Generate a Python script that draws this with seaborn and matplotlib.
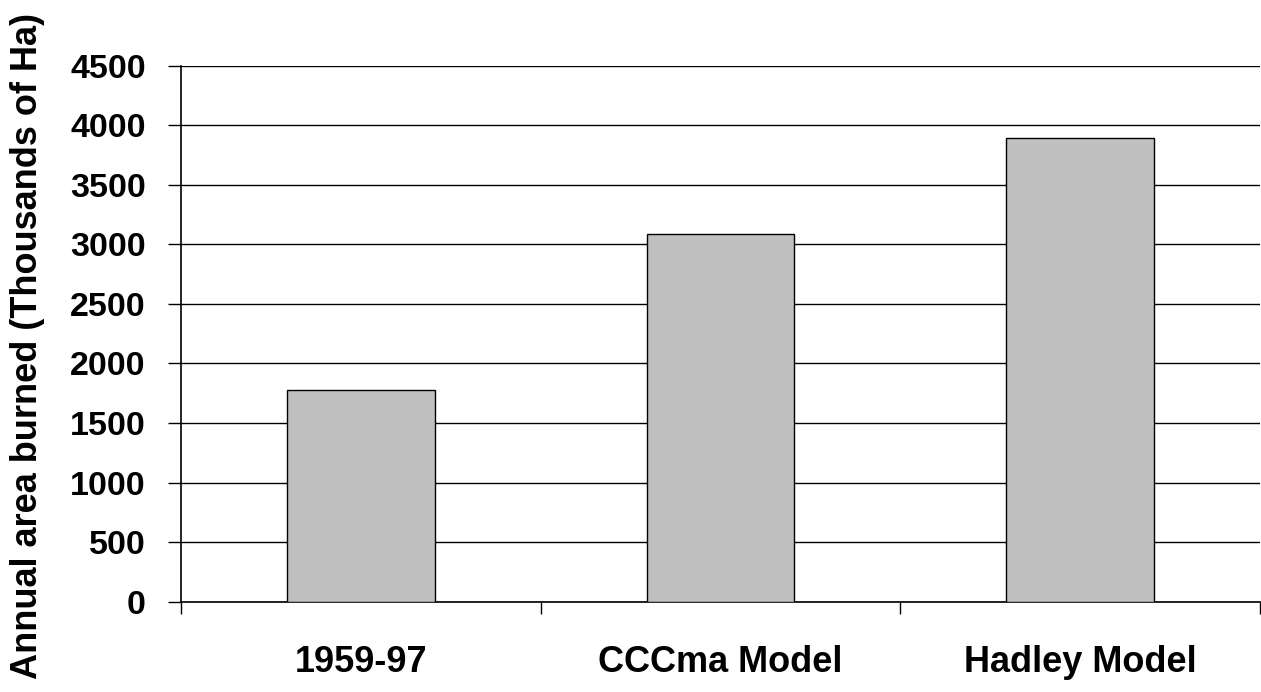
import matplotlib
matplotlib.use("Agg")
import matplotlib.pyplot as plt
import seaborn as sns
import pandas as pd
from matplotlib.ticker import FixedLocator, NullFormatter

categories = ["1959-97", "CCCma Model", "Hadley Model"]
values = [1780, 3085, 3890]
y_ticks = [0, 500, 1000, 1500, 2000, 2500, 3000, 3500, 4000, 4500]
y_label = "Annual area burned (Thousands of Ha)"

sns.set_theme(style="white")
plt.rcParams['font.family'] = ['Liberation Sans', 'DejaVu Sans']
plt.rcParams['text.color'] = 'black'
plt.rcParams['xtick.color'] = 'black'
plt.rcParams['ytick.color'] = 'black'

df = pd.DataFrame({"cat": categories, "val": values})

fig = plt.figure(figsize=(12.61, 6.92), dpi=100)
ax = fig.add_axes([181 / 1261, (692 - 601.7) / 692, 1079 / 1261, 536 / 692])

sns.barplot(data=df, x="cat", y="val", ax=ax, color="#C0C0C0", saturation=1,
            width=0.41, edgecolor="black", linewidth=1.0, zorder=3)

ax.set_xlim(-0.5, 2.5)
ax.set_ylim(0, 4500)
ax.set_yticks(y_ticks)
ax.set_yticklabels([str(v) for v in y_ticks], fontsize=24.5, fontweight="bold", color="black")
ax.yaxis.grid(True, color="black", linewidth=1.0, zorder=0)
ax.set_axisbelow(True)

# x: major ticks at category boundaries (no labels), minor at centers (labels)
ax.xaxis.set_major_locator(FixedLocator([-0.5, 0.5, 1.5, 2.5]))
ax.xaxis.set_major_formatter(NullFormatter())
ax.xaxis.set_minor_locator(FixedLocator([0, 1, 2]))
ax.set_xticklabels(categories, minor=True, fontsize=26, fontweight="bold", color="black")
ax.tick_params(axis="x", which="major", direction="out", length=8.6, width=1, color="black", bottom=True)
ax.tick_params(axis="x", which="minor", length=0, pad=31, bottom=True)
ax.tick_params(axis="y", direction="out", length=9.4, width=1, color="black", pad=16, left=True)

ax.set_xlabel("")
ax.set_ylabel("")
for s in ["top", "right"]:
    ax.spines[s].set_visible(False)
for s in ["left", "bottom"]:
    ax.spines[s].set_color("black")
    ax.spines[s].set_linewidth(1.2)

fig.text(28 / 1261, (692 - 346) / 692, y_label, rotation=90, ha="center", va="center",
         fontsize=26, fontweight="bold", color="black")

fig.savefig("out.png", dpi=100)
